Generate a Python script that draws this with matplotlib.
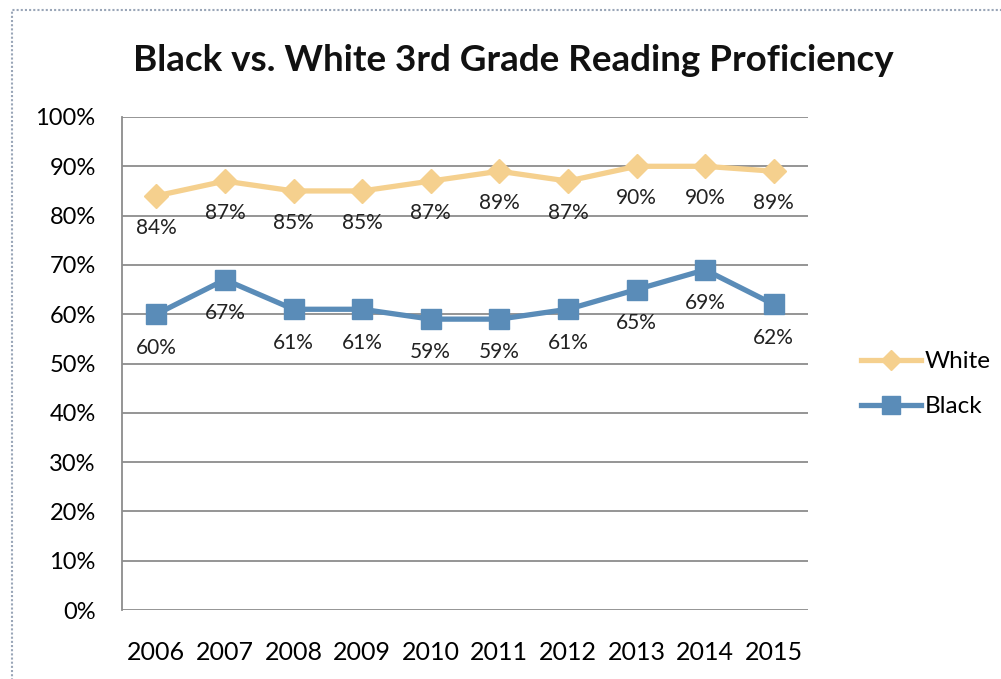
import numpy as np
import matplotlib
matplotlib.use("Agg")
import matplotlib.pyplot as plt
from matplotlib.patches import Rectangle
from matplotlib.lines import Line2D

plt.rcParams['font.family'] = ['Lato', 'DejaVu Sans']

years = ['2006', '2007', '2008', '2009', '2010', '2011', '2012', '2013', '2014', '2015']
white = [84, 87, 85, 85, 87, 89, 87, 90, 90, 89]
black = [60, 67, 61, 61, 59, 59, 61, 65, 69, 62]
yticks = [0, 10, 20, 30, 40, 50, 60, 70, 80, 90, 100]

white_col = '#F5D08E'
black_col = '#5A8CB8'
grid_col = '#8C8C8C'

fig = plt.figure(figsize=(10.01, 6.79), dpi=100)
ax = fig.add_axes([0.1219, 0.1016, 0.6853, 0.7261])

# dotted frame around the chart (cut at right and bottom like the screenshot)
fig.patches.append(Rectangle((0.012, -0.1), 1.2, 1.085, transform=fig.transFigure,
                             fill=False, edgecolor='#9AA6B8', lw=1.5, ls=(0, (1, 1))))

x = np.arange(len(years))
ax.plot(x, white, color=white_col, lw=3.8, marker='D', ms=12, mec=white_col, mfc=white_col,
        zorder=3)
ax.plot(x, black, color=black_col, lw=3.8, marker='s', ms=15, mec=black_col, mfc=black_col,
        zorder=3)

for xi, v in zip(x, white):
    ax.annotate(f'{v}%', (xi, v), xytext=(0, -23), textcoords='offset points',
                ha='center', va='center', fontsize=15, color='#222222', zorder=4)
for xi, v in zip(x, black):
    ax.annotate(f'{v}%', (xi, v), xytext=(0, -24), textcoords='offset points',
                ha='center', va='center', fontsize=15, color='#222222', zorder=4)

ax.set_xlim(-0.5, len(years) - 0.5)
ax.set_ylim(0, 100)
ax.set_yticks(yticks)
ax.set_yticklabels([f'{t}%' for t in yticks], fontsize=17)
ax.set_xticks(x)
ax.set_xticklabels(years, fontsize=18)
ax.tick_params(axis='both', length=0)
ax.tick_params(axis='y', pad=19)
ax.tick_params(axis='x', pad=22)
ax.yaxis.grid(True, color=grid_col, lw=1.3)
ax.set_axisbelow(True)
for s in ['top', 'right', 'bottom']:
    ax.spines[s].set_visible(False)
ax.spines['left'].set_color(grid_col)
ax.spines['left'].set_linewidth(1.3)

fig.text(0.513, 0.911, 'Black vs. White 3rd Grade Reading Proficiency', ha='center',
         va='center', fontsize=26.5, fontweight='bold', color='#111111')

handles = [Line2D([], [], color=white_col, lw=3.8, marker='D', ms=10),
           Line2D([], [], color=black_col, lw=3.8, marker='s', ms=13)]
fig.legend(handles, ['White', 'Black'], loc='center left', bbox_to_anchor=(0.838, 0.434),
           frameon=False, fontsize=17.5, handlelength=2.5, handletextpad=0.15, labelspacing=1.0)

fig.savefig('out.png', dpi=100)
